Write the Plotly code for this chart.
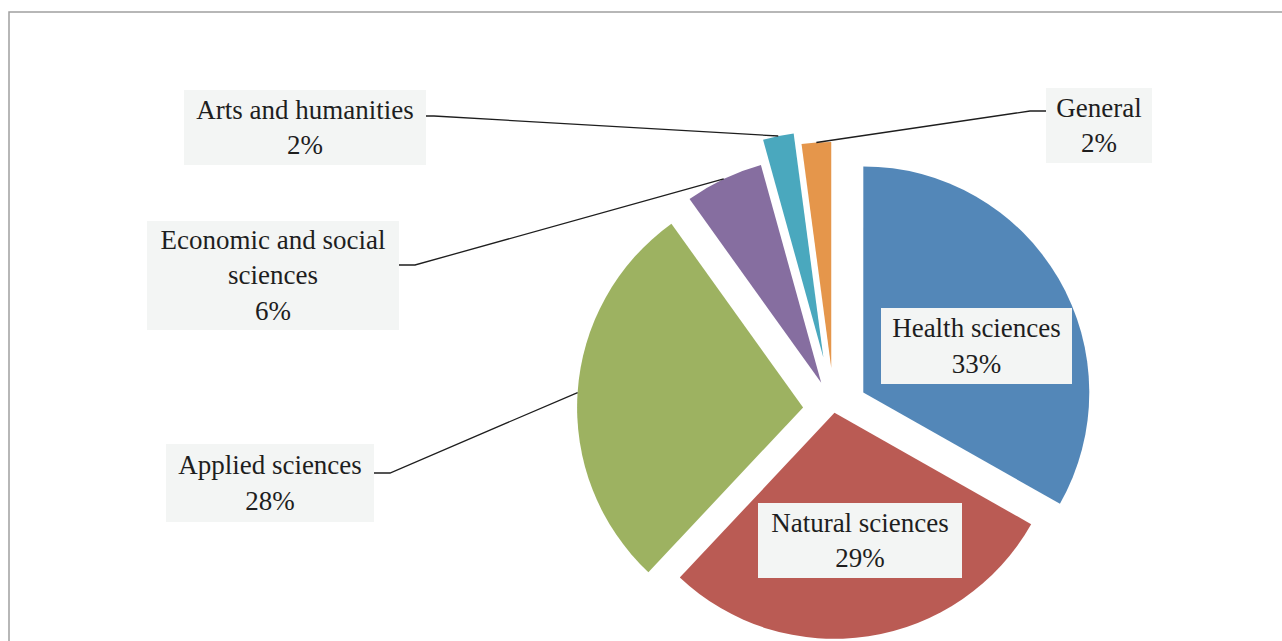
import math
import plotly.graph_objects as go

# ---------------- data ----------------
categories = ["Health sciences", "Natural sciences", "Applied sciences",
              "Economic and social sciences", "Arts and humanities", "General"]
shares = [33.2, 28.8, 28.1, 5.6, 2.2, 2.1]
label_lines = ["Health sciences", "Natural sciences", "Applied sciences",
               "Economic and social<br>sciences", "Arts and humanities", "General"]

# ---------------- styles / layout ----------------
slice_colors = ["#5387B8", "#BA5B54", "#9DB261", "#866EA0", "#4AA8BE", "#E5964B"]
pulls = [0.15, 0.015, 0.137, 0.131, 0.235, 0.184]

W, H = 1282, 700          # figure size (bottom part is cropped by the window)
VIEW_H = 641
CX, CY, R = 834, 409.5, 226   # pie centre / radius in pixels

FONT = dict(family="Liberation Serif, Times New Roman, serif", size=27, color="#1e1e1e")
BOX_BG = "#F3F5F4"

# label boxes: centre, size, leader line start and elbow (pixels)
boxes = [
    dict(cx=976.5, cy=346, w=191, h=76, lead=None),
    dict(cx=860, cy=540.5, w=204, h=75, lead=None),
    dict(cx=270, cy=483, w=208, h=78, lead=((374, 473), (390, 473))),
    dict(cx=273, cy=275.5, w=252, h=109, lead=((399, 265), (415, 265))),
    dict(cx=305, cy=127.5, w=242, h=75, lead=((426, 116), (434, 116))),
    dict(cx=1099, cy=125.5, w=106, h=75, lead=((1046, 111), (1030, 111))),
]


def fx(x):
    return x / W


def fy(y):
    return 1 - y / H


max_pull = max(pulls)
half = R * (1 + max_pull)
domain_x = [fx(CX - half), fx(CX + half)]
domain_y = [fy(CY + half), fy(CY - half)]

fig = go.Figure(go.Pie(
    labels=categories,
    values=shares,
    sort=False,
    direction="clockwise",
    rotation=0,
    pull=pulls,
    marker=dict(colors=slice_colors, line=dict(width=0)),
    textinfo="none",
    hoverinfo="label+percent",
    domain=dict(x=domain_x, y=domain_y),
    showlegend=False,
))

# slice bisector positions on the outer arc (computed from the data)
total = sum(shares)
cum = 0.0
mid_angles = []
for v in shares:
    mid_angles.append((cum + v / 2) / total * 2 * math.pi)
    cum += v


def arc_point(i):
    a = mid_angles[i]
    d = R * (1 + pulls[i])
    return CX + d * math.sin(a), CY - d * math.cos(a)


shapes = [
    dict(type="rect", xref="paper", yref="paper",
         x0=fx(9), y0=fy(H + 20), x1=fx(W + 20), y1=fy(12),
         line=dict(color="#A0A0A0", width=1.5), fillcolor="rgba(0,0,0,0)",
         layer="below"),
]

annotations = []
for i, b in enumerate(boxes):
    pct = f"{round(shares[i] / total * 100)}%"
    annotations.append(dict(
        xref="paper", yref="paper",
        x=fx(b["cx"]), y=fy(b["cy"]),
        xanchor="center", yanchor="middle",
        text=f"{label_lines[i]}<br>{pct}",
        showarrow=False, align="center",
        font=FONT, bgcolor=BOX_BG,
        width=b["w"], height=b["h"],
        borderpad=0, borderwidth=0,
    ))
    if b["lead"]:
        (sx, sy), (ex, ey) = b["lead"]
        px, py = arc_point(i)
        path = (f"M {fx(sx)} {fy(sy)} L {fx(ex)} {fy(ey)} L {fx(px)} {fy(py)}")
        shapes.append(dict(type="path", xref="paper", yref="paper", path=path,
                           line=dict(color="#1e1e1e", width=1.3)))

fig.update_layout(
    width=W, height=H,
    margin=dict(l=0, r=0, t=0, b=0),
    paper_bgcolor="white",
    plot_bgcolor="white",
    shapes=shapes,
    annotations=annotations,
)

post = ("var gd=document.getElementById('{plot_id}');"
        "document.body.style.margin='0';"
        "document.body.style.overflow='hidden';"
        "document.documentElement.style.overflow='hidden';"
        "gd.style.height='" + str(VIEW_H) + "px';"
        "gd.style.overflow='hidden';")

fig.write_html("out.html", post_script=post, config={"displayModeBar": False})
